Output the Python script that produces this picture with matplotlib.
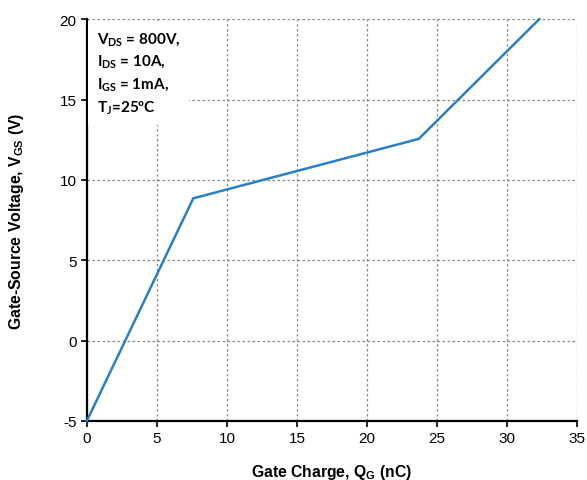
import matplotlib
matplotlib.use("Agg")
import matplotlib.pyplot as plt

qg = [0, 7.6, 23.7, 32.3]
vgs = [-5, 8.85, 12.55, 20]
xticks = [0, 5, 10, 15, 20, 25, 30, 35]
yticks = [-5, 0, 5, 10, 15, 20]

plt.rcParams['font.family'] = ['Liberation Sans', 'DejaVu Sans']
plt.rcParams['axes.unicode_minus'] = False
fig = plt.figure(figsize=(5.87, 4.81), dpi=100)
ax = fig.add_axes([0.148, 0.123, 0.835, 0.835])

ax.plot(qg, vgs, color='#2a7fc9', lw=1.8, zorder=3, clip_on=False)
ax.set_xlim(0, 35)
ax.set_ylim(-5, 20)
ax.set_xticks(xticks)
ax.set_yticks(yticks)
ax.grid(True, color='#888888', linestyle=(0, (2, 2)), lw=0.9)
for s in ['top', 'right']:
    ax.spines[s].set_visible(False)
for s in ['left', 'bottom']:
    ax.spines[s].set_linewidth(1.6)
ax.tick_params(direction='out', length=4, width=1.2, labelsize=11, colors='black')
ax.set_xlabel('Gate Charge, Q$_\\mathregular{G}$ (nC)', fontsize=11.3, fontweight='bold', labelpad=12)
ax.set_ylabel('Gate-Source Voltage, V$_\\mathregular{GS}$ (V)', fontsize=11.3, fontweight='bold', labelpad=24)

txt = ('V$_\\mathregular{DS}$ = 800V,\nI$_\\mathregular{DS}$ = 10A,\n'
       'I$_\\mathregular{GS}$ = 1mA,\nT$_\\mathregular{J}$=25ºC')
ax.text(0.7, 19.3, txt, fontsize=11, fontweight='bold', family=['Lato', 'DejaVu Sans'],
        va='top', ha='left', linespacing=1.4, zorder=4,
        bbox=dict(boxstyle='square,pad=0.6', facecolor='white', edgecolor='none'))

fig.savefig('out.png', dpi=100)
